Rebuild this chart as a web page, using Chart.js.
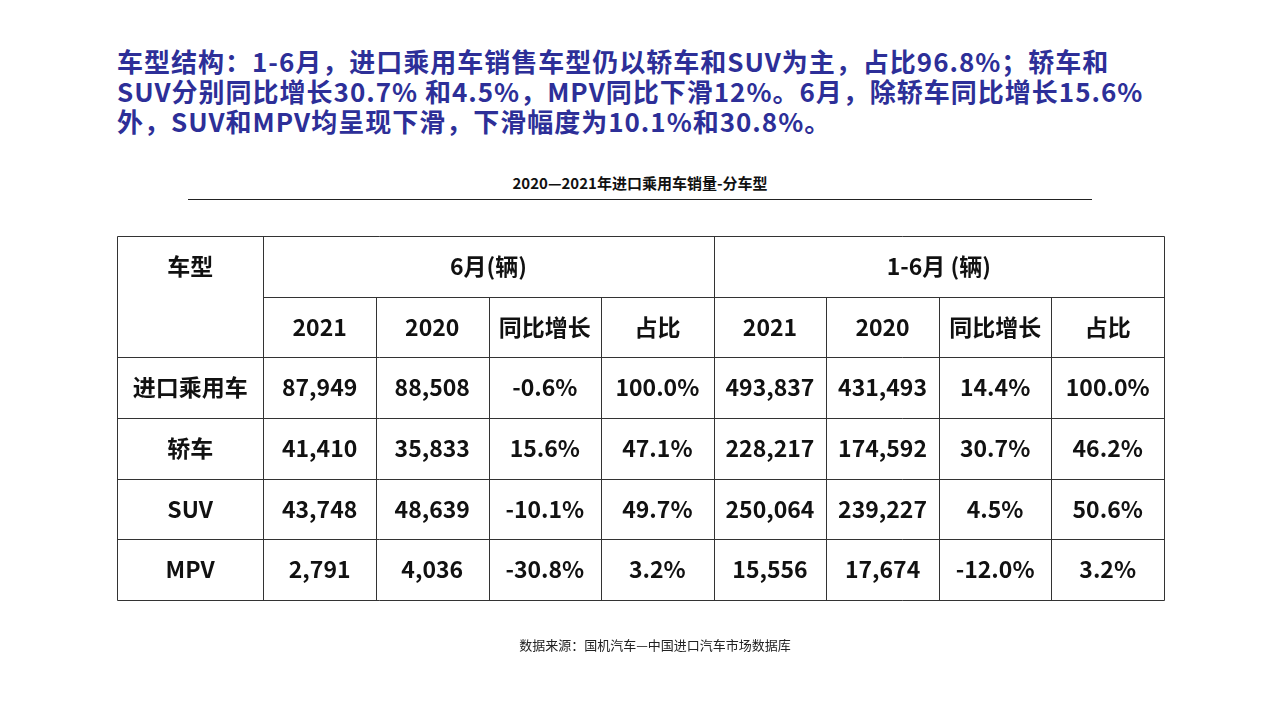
<!DOCTYPE html>
<html><head><meta charset="utf-8">
<script src="https://cdn.jsdelivr.net/npm/chart.js@4"></script>
<style>
body{margin:0;width:1280px;height:720px;background:#fff;position:relative;overflow:hidden;font-family:"Noto Sans CJK SC","Noto Sans",sans-serif}
#para{position:absolute;left:117px;top:46px;width:1160px;white-space:nowrap;font-size:26px;font-weight:bold;line-height:30px;color:#2d2f98;letter-spacing:1px}
#sub{position:absolute;left:188px;width:904px;top:172px;text-align:center;font-size:15px;font-weight:bold;color:#111;border-bottom:1.5px solid #222;padding-bottom:6px}
#src{position:absolute;left:0;width:1310px;top:635px;text-align:center;font-size:13px;color:#222}
canvas{position:absolute;left:0;top:0}
</style></head><body>
<div id="para">车型结构：1-6月，进口乘用车销售车型仍以轿车和SUV为主，占比96.8%；轿车和<br>SUV分别同比增长30.7% 和4.5%，MPV同比下滑12%。6月，除轿车同比增长15.6%<br>外，SUV和MPV均呈现下滑，下滑幅度为10.1%和30.8%。</div>
<div id="sub">2020—2021年进口乘用车销量-分车型</div>
<canvas id="c" width="1280" height="720"></canvas>
<div id="src">数据来源：国机汽车—中国进口汽车市场数据库</div>
<script>
const groupHeaders = ["6月(辆)", "1-6月 (辆)"];
const subHeaders = ["2021", "2020", "同比增长", "占比", "2021", "2020", "同比增长", "占比"];
const categories = ["进口乘用车", "轿车", "SUV", "MPV"];
const values = [
  ["87,949","88,508","-0.6%","100.0%","493,837","431,493","14.4%","100.0%"],
  ["41,410","35,833","15.6%","47.1%","228,217","174,592","30.7%","46.2%"],
  ["43,748","48,639","-10.1%","49.7%","250,064","239,227","4.5%","50.6%"],
  ["2,791","4,036","-30.8%","3.2%","15,556","17,674","-12.0%","3.2%"]
];
const firstHeader = "车型";
const FW = 1.3; // first column weight
const colLeft = i => i === 0 ? 0 : FW + (i - 1);
const colRight = i => FW + i;

const tablePlugin = {
  id: 'table',
  afterDraw(chart) {
    const ctx = chart.ctx, x = chart.scales.x, y = chart.scales.y;
    const nRows = 2 + categories.length, nCols = 1 + subHeaders.length;
    const X = v => x.getPixelForValue(v), Y = v => y.getPixelForValue(v);
    ctx.save();
    ctx.strokeStyle = '#333'; ctx.lineWidth = 1;
    const line = (x1,y1,x2,y2)=>{ctx.beginPath();ctx.moveTo(Math.round(x1)+0.5,Math.round(y1)+0.5);ctx.lineTo(Math.round(x2)+0.5,Math.round(y2)+0.5);ctx.stroke();};
    const xmax = colRight(nCols-1);
    for (let r = 0; r <= nRows; r++) {
      const x1 = r === 1 ? X(colLeft(1)) : X(0);
      line(x1, Y(r), X(xmax), Y(r));
    }
    for (let c = 0; c <= nCols; c++) {
      const xv = c === 0 ? 0 : colRight(c-1);
      const top = (c === 0 || c === 1 || c === 5 || c === nCols) ? 0 : 1;
      line(X(xv), Y(top), X(xv), Y(nRows));
    }
    ctx.fillStyle = '#111'; ctx.textAlign = 'center'; ctx.textBaseline = 'middle';
    ctx.font = 'bold 23px "Noto Sans CJK SC","Noto Sans",sans-serif';
    const cx = c => (X(colLeft(c)) + X(colRight(c))) / 2;
    const cy = r => (Y(r) + Y(r+1)) / 2;
    ctx.fillText(firstHeader, cx(0), cy(0));
    ctx.fillText(groupHeaders[0], (X(colLeft(1)) + X(colRight(4)))/2, cy(0));
    ctx.fillText(groupHeaders[1], (X(colLeft(5)) + X(colRight(8)))/2, cy(0));
    subHeaders.forEach((h,i)=>ctx.fillText(h, cx(i+1), cy(1)));
    categories.forEach((cat,r)=>{
      ctx.fillText(cat, cx(0), cy(r+2));
      values[r].forEach((v,i)=>ctx.fillText(v, cx(i+1), cy(r+2)));
    });
    ctx.restore();
  }
};

new Chart(document.getElementById('c'), {
  type: 'scatter',
  data: { datasets: [{ data: [] }] },
  options: {
    responsive: false, animation: false,
    layout: { padding: { left: 117, right: 116, top: 236, bottom: 120 } },
    plugins: { legend: { display: false }, tooltip: { enabled: false } },
    scales: {
      x: { type: 'linear', min: 0, max: FW + subHeaders.length, display: false },
      y: { type: 'linear', min: 0, max: 2 + categories.length, reverse: true, display: false }
    }
  },
  plugins: [tablePlugin]
});
</script>
</body></html>
